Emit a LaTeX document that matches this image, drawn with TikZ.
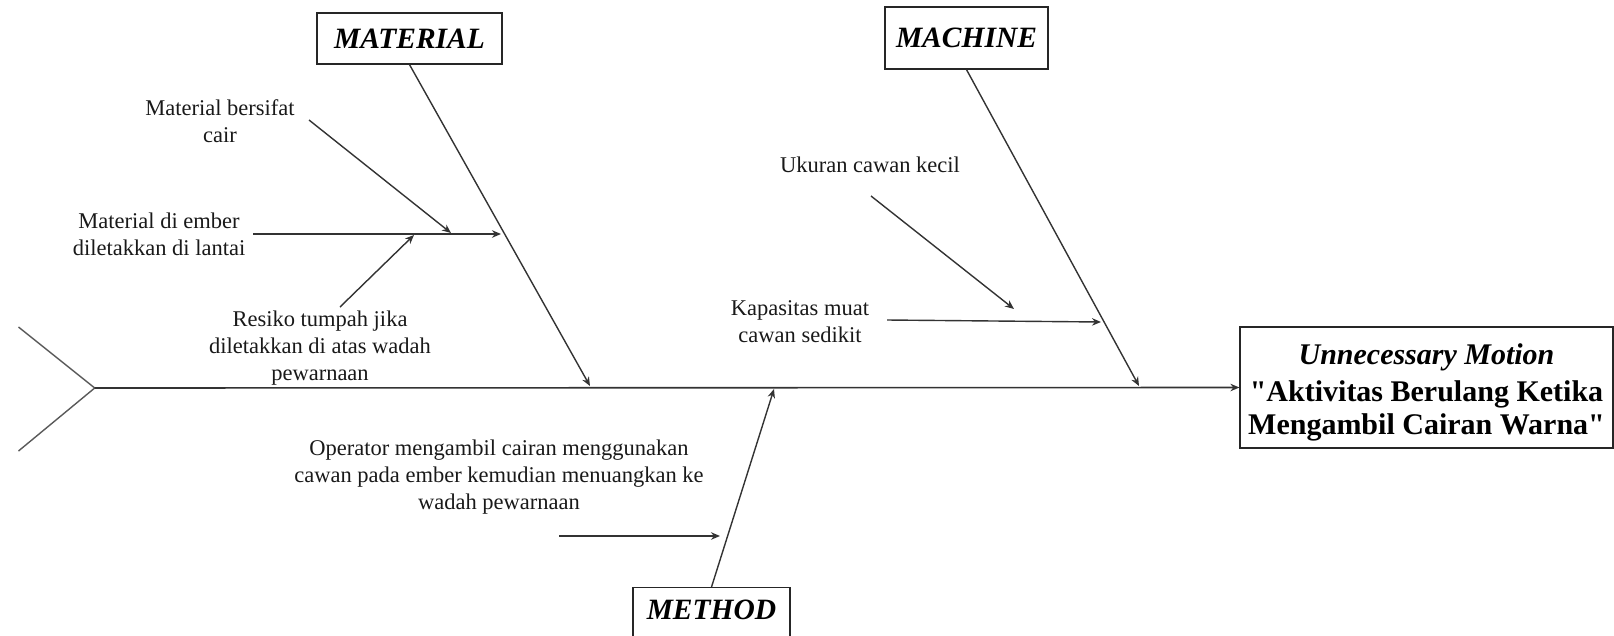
\documentclass[tikz,border=0pt]{standalone}
\usepackage{fontspec}
\setmainfont{Liberation Serif}[Ligatures=TeXOff]
\usetikzlibrary{arrows.meta}
\begin{document}
\begin{tikzpicture}[x=1pt,y=-1pt,
  line/.style={draw=black!80,line width=1.4pt},
  arr/.style={line,-{Stealth[length=9pt,width=7.5pt]}},
  catbox/.style={draw=black!85,line width=1.2pt,fill=white,inner sep=0pt,
    font=\fontsize{29.5}{34}\selectfont\bfseries\itshape},
  cause/.style={align=center,inner sep=0pt,text=black!90,
    font=\fontsize{22.5}{27.3}\selectfont},
  effectbox/.style={draw=black!85,line width=1.2pt,align=center,inner sep=0pt,
    minimum width=373pt,minimum height=121pt,
    font=\fontsize{30}{33}\selectfont\bfseries},
]
\useasboundingbox (0,0) rectangle (1614,635);

% fish tail and spine
\coordinate (tailTop) at (18.5,327);
\coordinate (tailBot) at (18.5,451);
\coordinate (head) at (94.7,388);
\draw[line,draw=black!65] (tailTop) -- (head) -- (tailBot);

\node[effectbox] (effect) at (1426.5,387.5)
  {\rule{0pt}{31pt}\itshape Unnecessary Motion\\[4pt]
   "Aktivitas Berulang Ketika\\
   Mengambil Cairan Warna"};
\draw[arr,line width=1.6pt] (head) -- (effect.west);

% category boxes
\node[catbox,minimum width=185pt,minimum height=51pt] (mat) at (409.5,38.5) {MATERIAL};
\node[catbox,minimum width=163pt,minimum height=62pt] (mach) at (966.5,38) {MACHINE};
\node[catbox,minimum width=157pt,anchor=north,text height=22pt,text depth=26pt,inner ysep=10pt] (meth) at (711.5,587) {METHOD};

% main bones
\coordinate (matEnd) at (590,386);
\coordinate (machEnd) at (1139,386);
\coordinate (methEnd) at (774,389);
\draw[arr] (mat.south) -- (matEnd);
\draw[arr] (mach.south) -- (machEnd);
\draw[arr] (meth.north) -- (methEnd);

% material causes
\node[cause] (c1) at (220,121) {Material bersifat\\cair};
\node[cause] (c2) at (159,234) {Material di ember\\diletakkan di lantai};
\node[cause] (c3) at (320,348) {Resiko tumpah jika\\diletakkan di atas wadah\\pewarnaan};
\coordinate (c1s) at (309,120);
\coordinate (c1e) at (451,233);
\coordinate (c2s) at (253,234);
\coordinate (c2e) at (501,234);
\coordinate (c3s) at (340,307);
\coordinate (c3e) at (414,235);
\draw[arr] (c1s) -- (c1e);
\draw[arr] (c2s) -- (c2e);
\draw[arr] (c3s) -- (c3e);

% machine causes
\node[cause] (m1) at (870,165) {Ukuran cawan kecil};
\node[cause] (m2) at (800,321.5) {Kapasitas muat\\cawan sedikit};
\coordinate (m1s) at (871,196);
\coordinate (m1e) at (1014,309);
\coordinate (m2s) at (887,320);
\coordinate (m2e) at (1101,322);
\draw[arr] (m1s) -- (m1e);
\draw[arr] (m2s) -- (m2e);

% method cause
\node[cause] (t1) at (499,477) {Operator mengambil cairan menggunakan\\cawan pada ember kemudian menuangkan ke\\wadah pewarnaan};
\coordinate (t1s) at (559,536);
\coordinate (t1e) at (720,536);
\draw[arr] (t1s) -- (t1e);
\end{tikzpicture}
\end{document}
